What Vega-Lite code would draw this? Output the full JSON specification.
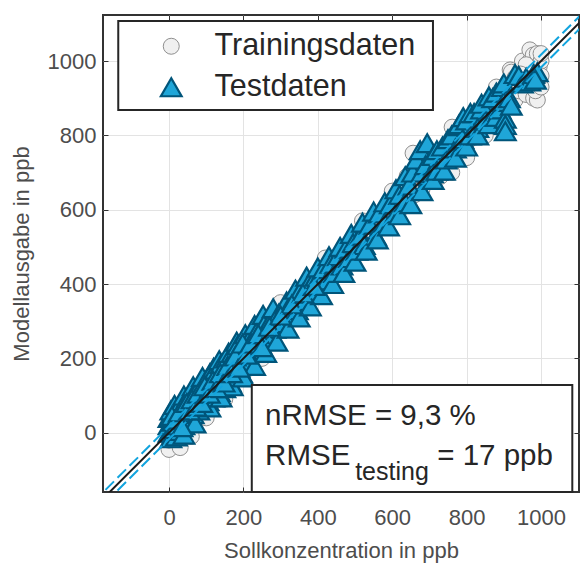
{
  "$schema": "https://vega.github.io/schema/vega-lite/v6.json",
  "width": 476,
  "height": 477,
  "autosize": {"type": "none"},
  "padding": {"left": 103, "top": 15, "right": 1, "bottom": 71},
  "background": "white",
  "config": {
    "view": {"stroke": "#333333", "strokeWidth": 2},
    "font": "Liberation Sans",
    "axis": {"labelFont": "Liberation Sans", "titleFont": "Liberation Sans", "titleFontWeight": "normal"}
  },
  "datasets": {
    "pts": [
      {"set": "Trainingsdaten", "x": 0, "y": -45}, {"set": "Trainingsdaten", "x": 0, "y": -20}, {"set": "Trainingsdaten", "x": 2, "y": 10}, {"set": "Trainingsdaten", "x": 5, "y": 30}, {"set": "Trainingsdaten", "x": 8, "y": -5}, {"set": "Trainingsdaten", "x": 12, "y": 20}, {"set": "Trainingsdaten", "x": 15, "y": 45}, {"set": "Trainingsdaten", "x": 20, "y": 0}, {"set": "Trainingsdaten", "x": 25, "y": 35}, {"set": "Trainingsdaten", "x": 30, "y": 15}, {"set": "Trainingsdaten", "x": 30, "y": -40}, {"set": "Trainingsdaten", "x": 35, "y": 60}, {"set": "Trainingsdaten", "x": 40, "y": 25}, {"set": "Trainingsdaten", "x": 45, "y": 55}, {"set": "Trainingsdaten", "x": 50, "y": 30}, {"set": "Trainingsdaten", "x": 55, "y": 75}, {"set": "Trainingsdaten", "x": 60, "y": 45}, {"set": "Trainingsdaten", "x": 60, "y": -10}, {"set": "Trainingsdaten", "x": 65, "y": 80}, {"set": "Trainingsdaten", "x": 70, "y": 50}, {"set": "Trainingsdaten", "x": 75, "y": 95}, {"set": "Trainingsdaten", "x": 80, "y": 70}, {"set": "Trainingsdaten", "x": 85, "y": 60}, {"set": "Trainingsdaten", "x": 90, "y": 110}, {"set": "Trainingsdaten", "x": 95, "y": 85}, {"set": "Trainingsdaten", "x": 100, "y": 120}, {"set": "Trainingsdaten", "x": 100, "y": 40}, {"set": "Trainingsdaten", "x": 105, "y": 90}, {"set": "Trainingsdaten", "x": 110, "y": 140}, {"set": "Trainingsdaten", "x": 115, "y": 100}, {"set": "Trainingsdaten", "x": 120, "y": 150}, {"set": "Trainingsdaten", "x": 125, "y": 115}, {"set": "Trainingsdaten", "x": 130, "y": 160}, {"set": "Trainingsdaten", "x": 135, "y": 125}, {"set": "Trainingsdaten", "x": 140, "y": 170}, {"set": "Trainingsdaten", "x": 145, "y": 130}, {"set": "Trainingsdaten", "x": 150, "y": 185}, {"set": "Trainingsdaten", "x": 150, "y": 90}, {"set": "Trainingsdaten", "x": 155, "y": 145}, {"set": "Trainingsdaten", "x": 160, "y": 200}, {"set": "Trainingsdaten", "x": 165, "y": 150}, {"set": "Trainingsdaten", "x": 170, "y": 210}, {"set": "Trainingsdaten", "x": 175, "y": 165}, {"set": "Trainingsdaten", "x": 180, "y": 215}, {"set": "Trainingsdaten", "x": 185, "y": 175}, {"set": "Trainingsdaten", "x": 190, "y": 225}, {"set": "Trainingsdaten", "x": 195, "y": 180}, {"set": "Trainingsdaten", "x": 200, "y": 240}, {"set": "Trainingsdaten", "x": 200, "y": 160}, {"set": "Trainingsdaten", "x": 205, "y": 190}, {"set": "Trainingsdaten", "x": 210, "y": 245}, {"set": "Trainingsdaten", "x": 220, "y": 205}, {"set": "Trainingsdaten", "x": 230, "y": 260}, {"set": "Trainingsdaten", "x": 240, "y": 230}, {"set": "Trainingsdaten", "x": 250, "y": 280}, {"set": "Trainingsdaten", "x": 250, "y": 200}, {"set": "Trainingsdaten", "x": 260, "y": 250}, {"set": "Trainingsdaten", "x": 270, "y": 295}, {"set": "Trainingsdaten", "x": 280, "y": 270}, {"set": "Trainingsdaten", "x": 290, "y": 310}, {"set": "Trainingsdaten", "x": 300, "y": 290}, {"set": "Trainingsdaten", "x": 300, "y": 350}, {"set": "Trainingsdaten", "x": 310, "y": 330}, {"set": "Trainingsdaten", "x": 320, "y": 300}, {"set": "Trainingsdaten", "x": 330, "y": 350}, {"set": "Trainingsdaten", "x": 340, "y": 325}, {"set": "Trainingsdaten", "x": 350, "y": 365}, {"set": "Trainingsdaten", "x": 360, "y": 345}, {"set": "Trainingsdaten", "x": 370, "y": 390}, {"set": "Trainingsdaten", "x": 380, "y": 365}, {"set": "Trainingsdaten", "x": 390, "y": 405}, {"set": "Trainingsdaten", "x": 400, "y": 385}, {"set": "Trainingsdaten", "x": 410, "y": 425}, {"set": "Trainingsdaten", "x": 420, "y": 400}, {"set": "Trainingsdaten", "x": 420, "y": 470}, {"set": "Trainingsdaten", "x": 430, "y": 445}, {"set": "Trainingsdaten", "x": 440, "y": 425}, {"set": "Trainingsdaten", "x": 450, "y": 470}, {"set": "Trainingsdaten", "x": 460, "y": 445}, {"set": "Trainingsdaten", "x": 470, "y": 485}, {"set": "Trainingsdaten", "x": 480, "y": 460}, {"set": "Trainingsdaten", "x": 490, "y": 505}, {"set": "Trainingsdaten", "x": 500, "y": 490}, {"set": "Trainingsdaten", "x": 510, "y": 520}, {"set": "Trainingsdaten", "x": 520, "y": 505}, {"set": "Trainingsdaten", "x": 520, "y": 570}, {"set": "Trainingsdaten", "x": 530, "y": 545}, {"set": "Trainingsdaten", "x": 540, "y": 525}, {"set": "Trainingsdaten", "x": 550, "y": 565}, {"set": "Trainingsdaten", "x": 560, "y": 545}, {"set": "Trainingsdaten", "x": 570, "y": 590}, {"set": "Trainingsdaten", "x": 580, "y": 560}, {"set": "Trainingsdaten", "x": 590, "y": 605}, {"set": "Trainingsdaten", "x": 600, "y": 585}, {"set": "Trainingsdaten", "x": 600, "y": 650}, {"set": "Trainingsdaten", "x": 610, "y": 630}, {"set": "Trainingsdaten", "x": 620, "y": 600}, {"set": "Trainingsdaten", "x": 630, "y": 650}, {"set": "Trainingsdaten", "x": 640, "y": 615}, {"set": "Trainingsdaten", "x": 640, "y": 690}, {"set": "Trainingsdaten", "x": 656, "y": 752}, {"set": "Trainingsdaten", "x": 650, "y": 670}, {"set": "Trainingsdaten", "x": 660, "y": 640}, {"set": "Trainingsdaten", "x": 670, "y": 690}, {"set": "Trainingsdaten", "x": 680, "y": 655}, {"set": "Trainingsdaten", "x": 690, "y": 710}, {"set": "Trainingsdaten", "x": 700, "y": 680}, {"set": "Trainingsdaten", "x": 700, "y": 745}, {"set": "Trainingsdaten", "x": 710, "y": 730}, {"set": "Trainingsdaten", "x": 720, "y": 695}, {"set": "Trainingsdaten", "x": 730, "y": 750}, {"set": "Trainingsdaten", "x": 730, "y": 690}, {"set": "Trainingsdaten", "x": 740, "y": 720}, {"set": "Trainingsdaten", "x": 750, "y": 770}, {"set": "Trainingsdaten", "x": 761, "y": 822}, {"set": "Trainingsdaten", "x": 760, "y": 740}, {"set": "Trainingsdaten", "x": 760, "y": 700}, {"set": "Trainingsdaten", "x": 770, "y": 790}, {"set": "Trainingsdaten", "x": 780, "y": 755}, {"set": "Trainingsdaten", "x": 790, "y": 810}, {"set": "Trainingsdaten", "x": 800, "y": 780}, {"set": "Trainingsdaten", "x": 800, "y": 740}, {"set": "Trainingsdaten", "x": 810, "y": 830}, {"set": "Trainingsdaten", "x": 820, "y": 795}, {"set": "Trainingsdaten", "x": 830, "y": 850}, {"set": "Trainingsdaten", "x": 840, "y": 815}, {"set": "Trainingsdaten", "x": 850, "y": 870}, {"set": "Trainingsdaten", "x": 850, "y": 800}, {"set": "Trainingsdaten", "x": 864, "y": 895}, {"set": "Trainingsdaten", "x": 860, "y": 840}, {"set": "Trainingsdaten", "x": 870, "y": 890}, {"set": "Trainingsdaten", "x": 880, "y": 855}, {"set": "Trainingsdaten", "x": 880, "y": 930}, {"set": "Trainingsdaten", "x": 890, "y": 910}, {"set": "Trainingsdaten", "x": 900, "y": 880}, {"set": "Trainingsdaten", "x": 910, "y": 930}, {"set": "Trainingsdaten", "x": 917, "y": 976}, {"set": "Trainingsdaten", "x": 920, "y": 900}, {"set": "Trainingsdaten", "x": 920, "y": 970}, {"set": "Trainingsdaten", "x": 930, "y": 955}, {"set": "Trainingsdaten", "x": 930, "y": 895}, {"set": "Trainingsdaten", "x": 940, "y": 920}, {"set": "Trainingsdaten", "x": 950, "y": 975}, {"set": "Trainingsdaten", "x": 950, "y": 1000}, {"set": "Trainingsdaten", "x": 960, "y": 940}, {"set": "Trainingsdaten", "x": 960, "y": 910}, {"set": "Trainingsdaten", "x": 970, "y": 1000}, {"set": "Trainingsdaten", "x": 970, "y": 1030}, {"set": "Trainingsdaten", "x": 975, "y": 960}, {"set": "Trainingsdaten", "x": 979, "y": 1016}, {"set": "Trainingsdaten", "x": 980, "y": 900}, {"set": "Trainingsdaten", "x": 985, "y": 975}, {"set": "Trainingsdaten", "x": 990, "y": 1020}, {"set": "Trainingsdaten", "x": 995, "y": 985}, {"set": "Trainingsdaten", "x": 1000, "y": 1000}, {"set": "Trainingsdaten", "x": 1000, "y": 1020}, {"set": "Trainingsdaten", "x": 990, "y": 950}, {"set": "Trainingsdaten", "x": 990, "y": 895}, {"set": "Trainingsdaten", "x": 985, "y": 920}, {"set": "Trainingsdaten", "x": 1000, "y": 930}, {"set": "Trainingsdaten", "x": 960, "y": 990}, {"set": "Trainingsdaten", "x": 945, "y": 965}, {"set": "Trainingsdaten", "x": 1000, "y": 960},
      {"set": "Testdaten", "x": 0, "y": 0}, {"set": "Testdaten", "x": 0, "y": 20}, {"set": "Testdaten", "x": 0, "y": 40}, {"set": "Testdaten", "x": 5, "y": -15}, {"set": "Testdaten", "x": 5, "y": 60}, {"set": "Testdaten", "x": 10, "y": 10}, {"set": "Testdaten", "x": 10, "y": 30}, {"set": "Testdaten", "x": 15, "y": 50}, {"set": "Testdaten", "x": 15, "y": 75}, {"set": "Testdaten", "x": 20, "y": -10}, {"set": "Testdaten", "x": 20, "y": 20}, {"set": "Testdaten", "x": 25, "y": 70}, {"set": "Testdaten", "x": 30, "y": 40}, {"set": "Testdaten", "x": 30, "y": 5}, {"set": "Testdaten", "x": 35, "y": 85}, {"set": "Testdaten", "x": 40, "y": 55}, {"set": "Testdaten", "x": 40, "y": 20}, {"set": "Testdaten", "x": 40, "y": 100}, {"set": "Testdaten", "x": 40, "y": -5}, {"set": "Testdaten", "x": 45, "y": 30}, {"set": "Testdaten", "x": 50, "y": 95}, {"set": "Testdaten", "x": 50, "y": 65}, {"set": "Testdaten", "x": 55, "y": 40}, {"set": "Testdaten", "x": 60, "y": 110}, {"set": "Testdaten", "x": 60, "y": 75}, {"set": "Testdaten", "x": 65, "y": 50}, {"set": "Testdaten", "x": 65, "y": 125}, {"set": "Testdaten", "x": 70, "y": 100}, {"set": "Testdaten", "x": 70, "y": 25}, {"set": "Testdaten", "x": 75, "y": 120}, {"set": "Testdaten", "x": 80, "y": 60}, {"set": "Testdaten", "x": 80, "y": 90}, {"set": "Testdaten", "x": 85, "y": 130}, {"set": "Testdaten", "x": 90, "y": 100}, {"set": "Testdaten", "x": 90, "y": 150}, {"set": "Testdaten", "x": 95, "y": 75}, {"set": "Testdaten", "x": 100, "y": 140}, {"set": "Testdaten", "x": 100, "y": 110}, {"set": "Testdaten", "x": 105, "y": 85}, {"set": "Testdaten", "x": 110, "y": 160}, {"set": "Testdaten", "x": 110, "y": 68}, {"set": "Testdaten", "x": 115, "y": 125}, {"set": "Testdaten", "x": 120, "y": 95}, {"set": "Testdaten", "x": 120, "y": 175}, {"set": "Testdaten", "x": 125, "y": 170}, {"set": "Testdaten", "x": 130, "y": 140}, {"set": "Testdaten", "x": 135, "y": 110}, {"set": "Testdaten", "x": 135, "y": 195}, {"set": "Testdaten", "x": 140, "y": 185}, {"set": "Testdaten", "x": 140, "y": 95}, {"set": "Testdaten", "x": 145, "y": 150}, {"set": "Testdaten", "x": 150, "y": 120}, {"set": "Testdaten", "x": 155, "y": 200}, {"set": "Testdaten", "x": 160, "y": 165}, {"set": "Testdaten", "x": 160, "y": 215}, {"set": "Testdaten", "x": 165, "y": 135}, {"set": "Testdaten", "x": 170, "y": 215}, {"set": "Testdaten", "x": 170, "y": 125}, {"set": "Testdaten", "x": 175, "y": 180}, {"set": "Testdaten", "x": 180, "y": 150}, {"set": "Testdaten", "x": 182, "y": 245}, {"set": "Testdaten", "x": 185, "y": 235}, {"set": "Testdaten", "x": 190, "y": 195}, {"set": "Testdaten", "x": 195, "y": 160}, {"set": "Testdaten", "x": 200, "y": 225}, {"set": "Testdaten", "x": 200, "y": 149}, {"set": "Testdaten", "x": 205, "y": 265}, {"set": "Testdaten", "x": 210, "y": 185}, {"set": "Testdaten", "x": 215, "y": 250}, {"set": "Testdaten", "x": 225, "y": 215}, {"set": "Testdaten", "x": 230, "y": 290}, {"set": "Testdaten", "x": 230, "y": 180}, {"set": "Testdaten", "x": 235, "y": 270}, {"set": "Testdaten", "x": 245, "y": 240}, {"set": "Testdaten", "x": 253, "y": 317}, {"set": "Testdaten", "x": 255, "y": 290}, {"set": "Testdaten", "x": 260, "y": 215}, {"set": "Testdaten", "x": 265, "y": 255}, {"set": "Testdaten", "x": 275, "y": 305}, {"set": "Testdaten", "x": 280, "y": 335}, {"set": "Testdaten", "x": 285, "y": 280}, {"set": "Testdaten", "x": 290, "y": 245}, {"set": "Testdaten", "x": 295, "y": 320}, {"set": "Testdaten", "x": 305, "y": 295}, {"set": "Testdaten", "x": 315, "y": 345}, {"set": "Testdaten", "x": 316, "y": 353}, {"set": "Testdaten", "x": 320, "y": 280}, {"set": "Testdaten", "x": 325, "y": 320}, {"set": "Testdaten", "x": 335, "y": 360}, {"set": "Testdaten", "x": 340, "y": 385}, {"set": "Testdaten", "x": 345, "y": 330}, {"set": "Testdaten", "x": 350, "y": 310}, {"set": "Testdaten", "x": 355, "y": 385}, {"set": "Testdaten", "x": 365, "y": 355}, {"set": "Testdaten", "x": 370, "y": 420}, {"set": "Testdaten", "x": 375, "y": 400}, {"set": "Testdaten", "x": 380, "y": 340}, {"set": "Testdaten", "x": 385, "y": 375}, {"set": "Testdaten", "x": 395, "y": 420}, {"set": "Testdaten", "x": 400, "y": 445}, {"set": "Testdaten", "x": 405, "y": 400}, {"set": "Testdaten", "x": 410, "y": 370}, {"set": "Testdaten", "x": 415, "y": 440}, {"set": "Testdaten", "x": 425, "y": 410}, {"set": "Testdaten", "x": 430, "y": 475}, {"set": "Testdaten", "x": 435, "y": 455}, {"set": "Testdaten", "x": 440, "y": 400}, {"set": "Testdaten", "x": 445, "y": 430}, {"set": "Testdaten", "x": 455, "y": 475}, {"set": "Testdaten", "x": 460, "y": 500}, {"set": "Testdaten", "x": 465, "y": 450}, {"set": "Testdaten", "x": 470, "y": 430}, {"set": "Testdaten", "x": 475, "y": 495}, {"set": "Testdaten", "x": 485, "y": 470}, {"set": "Testdaten", "x": 490, "y": 535}, {"set": "Testdaten", "x": 495, "y": 510}, {"set": "Testdaten", "x": 500, "y": 460}, {"set": "Testdaten", "x": 505, "y": 490}, {"set": "Testdaten", "x": 515, "y": 530}, {"set": "Testdaten", "x": 520, "y": 565}, {"set": "Testdaten", "x": 525, "y": 505}, {"set": "Testdaten", "x": 530, "y": 490}, {"set": "Testdaten", "x": 540, "y": 560}, {"set": "Testdaten", "x": 550, "y": 595}, {"set": "Testdaten", "x": 555, "y": 530}, {"set": "Testdaten", "x": 560, "y": 520}, {"set": "Testdaten", "x": 565, "y": 590}, {"set": "Testdaten", "x": 580, "y": 620}, {"set": "Testdaten", "x": 580, "y": 565}, {"set": "Testdaten", "x": 590, "y": 555}, {"set": "Testdaten", "x": 595, "y": 615}, {"set": "Testdaten", "x": 610, "y": 655}, {"set": "Testdaten", "x": 610, "y": 590}, {"set": "Testdaten", "x": 620, "y": 640}, {"set": "Testdaten", "x": 620, "y": 585}, {"set": "Testdaten", "x": 635, "y": 690}, {"set": "Testdaten", "x": 635, "y": 620}, {"set": "Testdaten", "x": 645, "y": 665}, {"set": "Testdaten", "x": 650, "y": 615}, {"set": "Testdaten", "x": 655, "y": 700}, {"set": "Testdaten", "x": 665, "y": 735}, {"set": "Testdaten", "x": 675, "y": 760}, {"set": "Testdaten", "x": 680, "y": 650}, {"set": "Testdaten", "x": 694, "y": 779}, {"set": "Testdaten", "x": 680, "y": 700}, {"set": "Testdaten", "x": 690, "y": 720}, {"set": "Testdaten", "x": 700, "y": 690}, {"set": "Testdaten", "x": 708, "y": 698}, {"set": "Testdaten", "x": 710, "y": 745}, {"set": "Testdaten", "x": 710, "y": 680}, {"set": "Testdaten", "x": 720, "y": 705}, {"set": "Testdaten", "x": 720, "y": 760}, {"set": "Testdaten", "x": 735, "y": 770}, {"set": "Testdaten", "x": 740, "y": 705}, {"set": "Testdaten", "x": 745, "y": 735}, {"set": "Testdaten", "x": 750, "y": 790}, {"set": "Testdaten", "x": 760, "y": 800}, {"set": "Testdaten", "x": 770, "y": 765}, {"set": "Testdaten", "x": 770, "y": 740}, {"set": "Testdaten", "x": 780, "y": 825}, {"set": "Testdaten", "x": 780, "y": 830}, {"set": "Testdaten", "x": 791, "y": 849}, {"set": "Testdaten", "x": 790, "y": 790}, {"set": "Testdaten", "x": 800, "y": 840}, {"set": "Testdaten", "x": 800, "y": 770}, {"set": "Testdaten", "x": 810, "y": 800}, {"set": "Testdaten", "x": 810, "y": 860}, {"set": "Testdaten", "x": 820, "y": 860}, {"set": "Testdaten", "x": 830, "y": 820}, {"set": "Testdaten", "x": 830, "y": 800}, {"set": "Testdaten", "x": 840, "y": 870}, {"set": "Testdaten", "x": 840, "y": 885}, {"set": "Testdaten", "x": 850, "y": 840}, {"set": "Testdaten", "x": 860, "y": 905}, {"set": "Testdaten", "x": 860, "y": 830}, {"set": "Testdaten", "x": 870, "y": 850}, {"set": "Testdaten", "x": 870, "y": 900}, {"set": "Testdaten", "x": 880, "y": 915}, {"set": "Testdaten", "x": 880, "y": 850}, {"set": "Testdaten", "x": 896, "y": 930}, {"set": "Testdaten", "x": 890, "y": 870}, {"set": "Testdaten", "x": 900, "y": 890}, {"set": "Testdaten", "x": 900, "y": 940}, {"set": "Testdaten", "x": 904, "y": 845}, {"set": "Testdaten", "x": 904, "y": 828}, {"set": "Testdaten", "x": 904, "y": 811}, {"set": "Testdaten", "x": 915, "y": 900}, {"set": "Testdaten", "x": 920, "y": 880}, {"set": "Testdaten", "x": 930, "y": 965}, {"set": "Testdaten", "x": 940, "y": 960}, {"set": "Testdaten", "x": 950, "y": 940}, {"set": "Testdaten", "x": 960, "y": 955}, {"set": "Testdaten", "x": 970, "y": 945}, {"set": "Testdaten", "x": 980, "y": 965}, {"set": "Testdaten", "x": 990, "y": 970}, {"set": "Testdaten", "x": 985, "y": 950},
      {"set": "Testdaten", "x": 8, "y": 45}, {"set": "Testdaten", "x": 18, "y": 35}, {"set": "Testdaten", "x": 28, "y": 55}, {"set": "Testdaten", "x": 35, "y": 15}, {"set": "Testdaten", "x": 48, "y": 80}, {"set": "Testdaten", "x": 55, "y": 60}, {"set": "Testdaten", "x": 62, "y": 90}, {"set": "Testdaten", "x": 72, "y": 70}, {"set": "Testdaten", "x": 78, "y": 105}, {"set": "Testdaten", "x": 88, "y": 80}, {"set": "Testdaten", "x": 96, "y": 125}, {"set": "Testdaten", "x": 108, "y": 105}, {"set": "Testdaten", "x": 118, "y": 140}, {"set": "Testdaten", "x": 128, "y": 120}, {"set": "Testdaten", "x": 138, "y": 160}, {"set": "Testdaten", "x": 148, "y": 135}, {"set": "Testdaten", "x": 158, "y": 180}, {"set": "Testdaten", "x": 168, "y": 160}, {"set": "Testdaten", "x": 178, "y": 205}, {"set": "Testdaten", "x": 188, "y": 175}, {"set": "Testdaten", "x": 198, "y": 240}, {"set": "Testdaten", "x": 208, "y": 210}, {"set": "Testdaten", "x": 220, "y": 240}, {"set": "Testdaten", "x": 240, "y": 265}, {"set": "Testdaten", "x": 250, "y": 230}, {"set": "Testdaten", "x": 270, "y": 285}, {"set": "Testdaten", "x": 300, "y": 315}, {"set": "Testdaten", "x": 330, "y": 345}, {"set": "Testdaten", "x": 360, "y": 375}, {"set": "Testdaten", "x": 390, "y": 395}
    ],
    "lines": [
      {"line": "ideal", "x": -300, "y": -300}, {"line": "ideal", "x": 1300, "y": 1300},
      {"line": "upper", "x": -300, "y": -283}, {"line": "upper", "x": 1300, "y": 1317},
      {"line": "lower", "x": -300, "y": -317}, {"line": "lower", "x": 1300, "y": 1283}
    ]
  },
  "resolve": {"axis": {"x": "independent", "y": "independent"}},
  "layer": [
    {
      "data": {"name": "pts"},
      "mark": {"type": "point", "opacity": 1, "fillOpacity": 1, "clip": true},
      "encoding": {
        "x": {"field": "x", "type": "quantitative", "scale": {"domain": [-177.4, 1102], "nice": false, "zero": false},
          "axis": {"orient": "bottom", "values": [0, 200, 400, 600, 800, 1000], "format": "d", "grid": true, "gridColor": "#e3e3e3", "gridWidth": 1, "domain": false, "tickColor": "#333333", "tickSize": -5, "tickWidth": 1, "labelFontSize": 22, "labelColor": "#4d4d4d", "labelPadding": 20, "title": "Sollkonzentration in ppb", "titleFontSize": 22, "titleColor": "#4d4d4d", "titlePadding": 12}},
        "y": {"field": "y", "type": "quantitative", "scale": {"domain": [-159.5, 1123.8], "nice": false, "zero": false},
          "axis": {"orient": "left", "values": [0, 200, 400, 600, 800, 1000], "format": "d", "grid": true, "gridColor": "#e3e3e3", "gridWidth": 1, "domain": false, "tickColor": "#333333", "tickSize": -5, "tickWidth": 1, "labelFontSize": 22, "labelColor": "#4d4d4d", "labelPadding": 12, "title": "Modellausgabe in ppb", "titleFontSize": 22, "titleColor": "#4d4d4d", "titlePadding": 14}},
        "shape": {"field": "set", "type": "nominal", "scale": {"domain": ["Trainingsdaten", "Testdaten"], "range": ["circle", "triangle-up"]},
          "legend": {"title": null, "orient": "none", "legendX": 53, "legendY": 16, "padding": 0, "labelFontSize": 30.5, "labelColor": "#262626", "labelFont": "Liberation Sans", "labelOffset": 28, "labelLimit": 0, "rowPadding": 10, "symbolOpacity": 1}},
        "fill": {"field": "set", "type": "nominal", "scale": {"domain": ["Trainingsdaten", "Testdaten"], "range": ["#f0f0f0", "#1fa6d8"]}, "legend": {"title": null}},
        "stroke": {"field": "set", "type": "nominal", "scale": {"domain": ["Trainingsdaten", "Testdaten"], "range": ["#8f8f8f", "#00557a"]}, "legend": {"title": null}},
        "size": {"field": "set", "type": "nominal", "scale": {"domain": ["Trainingsdaten", "Testdaten"], "range": [256, 430]}, "legend": {"title": null}},
        "strokeWidth": {"field": "set", "type": "nominal", "scale": {"domain": ["Trainingsdaten", "Testdaten"], "range": [1, 2.2]}, "legend": {"title": null}}
      }
    },
    {
      "data": {"name": "lines"},
      "transform": [{"filter": "datum.line !== 'ideal'"}],
      "mark": {"type": "line", "color": "#12a4de", "strokeWidth": 2, "strokeDash": [12, 5], "clip": true},
      "encoding": {
        "x": {"field": "x", "type": "quantitative", "scale": {"domain": [-177.4, 1102], "nice": false, "zero": false},
          "axis": {"orient": "top", "values": [0, 200, 400, 600, 800, 1000], "grid": false, "domain": false, "labels": false, "tickColor": "#333333", "tickSize": -5, "tickWidth": 1, "title": null}},
        "y": {"field": "y", "type": "quantitative", "scale": {"domain": [-159.5, 1123.8], "nice": false, "zero": false},
          "axis": {"orient": "right", "values": [0, 200, 400, 600, 800, 1000], "grid": false, "domain": false, "labels": false, "tickColor": "#333333", "tickSize": -5, "tickWidth": 1, "title": null}},
        "detail": {"field": "line", "type": "nominal"}
      }
    },
    {
      "data": {"name": "lines"},
      "transform": [{"filter": "datum.line === 'ideal'"}],
      "mark": {"type": "line", "color": "#1a1a1a", "strokeWidth": 2, "clip": true},
      "encoding": {
        "x": {"field": "x", "type": "quantitative", "axis": null},
        "y": {"field": "y", "type": "quantitative", "axis": null}
      }
    },
    {
      "data": {"values": [{}]},
      "mark": {"type": "rect", "fill": "white", "stroke": "#262626", "strokeWidth": 2},
      "encoding": {
        "x": {"datum": 222.5, "type": "quantitative", "axis": null},
        "x2": {"datum": 1084},
        "y": {"datum": -159.5, "type": "quantitative", "axis": null},
        "y2": {"datum": 128.3}
      }
    },
    {
      "data": {"values": [{}]},
      "mark": {"type": "rect", "fill": "white", "stroke": "#262626", "strokeWidth": 2},
      "encoding": {
        "x": {"datum": -136.4, "type": "quantitative", "axis": null},
        "x2": {"datum": 709.5},
        "y": {"datum": 868.2, "type": "quantitative", "axis": null},
        "y2": {"datum": 1107.6}
      }
    },
    {
      "data": {"values": [{}]},
      "mark": {"type": "text", "text": "nRMSE = 9,3 %", "align": "left", "baseline": "alphabetic", "fontSize": 29.5, "font": "Liberation Sans", "color": "#262626"},
      "encoding": {"x": {"datum": 258.3, "type": "quantitative", "axis": null}, "y": {"datum": 20.7, "type": "quantitative", "axis": null}}
    },
    {
      "data": {"values": [{}]},
      "mark": {"type": "text", "text": "RMSE", "align": "left", "baseline": "alphabetic", "fontSize": 29.5, "font": "Liberation Sans", "color": "#262626"},
      "encoding": {"x": {"datum": 258.3, "type": "quantitative", "axis": null}, "y": {"datum": -86.9, "type": "quantitative", "axis": null}}
    },
    {
      "data": {"values": [{}]},
      "mark": {"type": "text", "text": "testing", "align": "left", "baseline": "alphabetic", "fontSize": 25, "font": "Liberation Sans", "color": "#262626"},
      "encoding": {"x": {"datum": 500.4, "type": "quantitative", "axis": null}, "y": {"datum": -127, "type": "quantitative", "axis": null}}
    },
    {
      "data": {"values": [{}]},
      "mark": {"type": "text", "text": "= 17 ppb", "align": "left", "baseline": "alphabetic", "fontSize": 29.5, "font": "Liberation Sans", "color": "#262626"},
      "encoding": {"x": {"datum": 721, "type": "quantitative", "axis": null}, "y": {"datum": -86.9, "type": "quantitative", "axis": null}}
    }
  ]
}
